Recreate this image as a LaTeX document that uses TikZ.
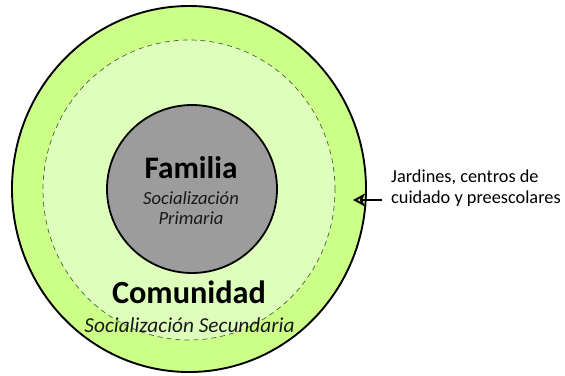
\documentclass[tikz,border=0pt]{standalone}
\usepackage{fontspec}
\setmainfont{Carlito}
\usetikzlibrary{shapes.geometric,arrows.meta}
\definecolor{ringgreen}{RGB}{204,255,136}
\definecolor{innergreen}{RGB}{222,255,188}
\definecolor{famgray}{RGB}{156,156,156}
\definecolor{dashgreen}{RGB}{70,100,60}
\tikzset{
  circ/.style={ellipse, inner sep=0pt, outer sep=0pt},
  bigtitle/.style={anchor=base, inner sep=0pt, font=\fontsize{31.3}{36}\selectfont\bfseries},
  subtitle/.style={anchor=base, inner sep=0pt, font=\fontsize{18.6}{22}\selectfont\itshape, text=black!90},
  sidetext/.style={anchor=base west, inner sep=0pt, font=\fontsize{18.3}{22}\selectfont, text=black},
  arr/.style={-{Stealth[open,length=12pt,width=13pt,inset=3pt]}, line width=2pt}
}
\begin{document}
\begin{tikzpicture}[x=1pt,y=-1pt]
\useasboundingbox (0,0) rectangle (565,375);
\node[circ, draw=black, line width=1.9pt, fill=ringgreen, minimum width=354pt, minimum height=366pt] (outer) at (189,189) {};
\node[circ, draw=dashgreen, line width=0.7pt, dash pattern=on 5pt off 4pt, fill=innergreen, minimum width=292pt, minimum height=300pt] (mid) at (189,190) {};
\node[circ, draw=black, line width=1.8pt, fill=famgray, minimum width=170pt, minimum height=168pt] (fam) at (192,189) {};
\node[bigtitle] (familia) at (191,178) {Familia};
\node[subtitle] (soc1) at (191,204) {Socialización};
\node[subtitle] (prim) at (191,224) {Primaria};
\node[bigtitle, font=\fontsize{32.3}{38}\selectfont\bfseries] (comu) at (189,303) {Comunidad};
\node[subtitle, font=\fontsize{21.3}{25}\selectfont\itshape] (soc2) at (189.5,332) {Socialización Secundaria};
\node[sidetext] (jard1) at (391,182) {Jardines, centros de};
\node[sidetext] (jard2) at (391,203) {cuidado y preescolares};
\coordinate (tail) at (382,200);
\coordinate (tip) at (353,200);
\draw[arr] (tail) -- (tip);
\end{tikzpicture}
\end{document}
